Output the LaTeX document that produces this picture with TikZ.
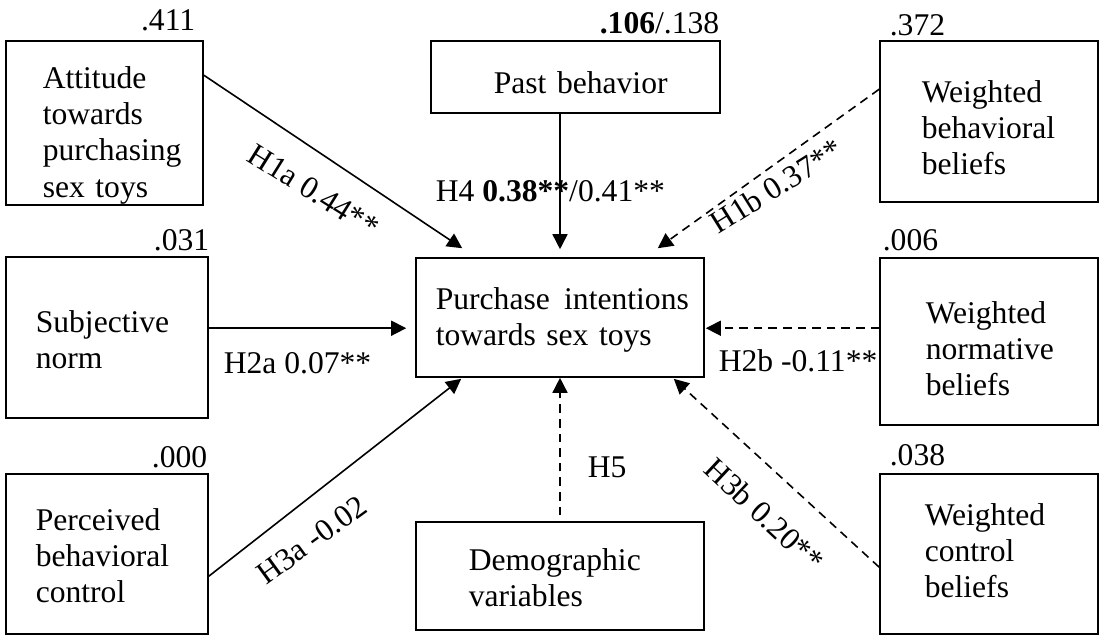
\documentclass[tikz,border=0pt]{standalone}
\usepackage{fontspec}
\setmainfont{Liberation Serif}
\usetikzlibrary{arrows.meta,calc,fit}

\tikzset{every picture/.style={line width=0.8pt}}
\tikzset{
  box/.style={draw, inner sep=0pt},
  boxtext/.style={anchor=base west, inner sep=0pt, align=left, text width=150pt},
  rsq/.style={inner sep=0pt},
  hyp/.style={inner sep=0pt, anchor=base west},
  arr/.style={-{Triangle[length=7.5pt,width=7.5pt]}},
  darr/.style={arr, dash pattern=on 4.3pt off 3pt},
}
\newcommand{\diafont}{\fontsize{15.8}{18.2}\selectfont}

\begin{document}
\begin{tikzpicture}[x=0.5pt,y=0.5pt,yscale=-1,xscale=1,font=\diafont]
\useasboundingbox (0,0) rectangle (1101,639);

%Shape: Rectangle
\node[box, fit={(6,41) (203,205)}] (att) {};
\node[box, fit={(6,257) (208,418)}] (subj) {};
\node[box, fit={(6,474) (208,634)}] (pbc) {};
\node[box, fit={(431,41) (720,113)}] (past) {};
\node[box, fit={(416,258) (704,377)}] (pi) {};
\node[box, fit={(416,522) (704,630)}] (demo) {};
\node[box, fit={(880,41) (1098,202)}] (wbb) {};
\node[box, fit={(880,258) (1098,425)}] (wnb) {};
\node[box, fit={(880,474) (1098,634)}] (wcb) {};

% Text Node
\node[boxtext] (att-t) at (42,88) {Attitude\\towards\\purchasing\\sex toys};
\node[boxtext] (subj-t) at (35,332) {Subjective\\norm};
\node[boxtext] (pbc-t) at (35,530) {Perceived\\behavioral\\control};
\node[boxtext] (past-t) at (493,93) {Past behavior};
\node[boxtext] (pi-t) at (435,309) {Purchase\hspace{0.12em} intentions\\towards sex toys};
\node[boxtext] (demo-t) at (468,570) {Demographic\\variables};
\node[boxtext] (wbb-t) at (921,102) {Weighted\\behavioral\\beliefs};
\node[boxtext] (wnb-t) at (925,323) {Weighted\\normative\\beliefs};
\node[boxtext] (wcb-t) at (924,525) {Weighted\\control\\beliefs};

% Text Node
\node[rsq, anchor=base east] (att-r) at (196,30) {.411};
\node[rsq, anchor=base east] (subj-r) at (210,250) {.031};
\node[rsq, anchor=base east] (pbc-r) at (208,467) {.000};
\node[rsq, anchor=base east] (past-r) at (720,33) {\textbf{.106}/.138};
\node[rsq, anchor=base west] (wbb-r) at (889,35) {.372};
\node[rsq, anchor=base west] (wnb-r) at (882,250) {.006};
\node[rsq, anchor=base west] (wcb-r) at (889,465) {.038};

%Straight Lines
\draw[arr] ($(att.north east)+(0,35)$) -- ($(pi.north west)+(47,-9)$);
\draw[arr] (past.south -| pi.north) -- ($(pi.north)+(0,-8)$);
\draw[darr] ($(wbb.north west)+(0,49)$) -- ($(pi.north east)+(-47,-9)$);
\draw[arr] ($(subj.north east)+(0,72)$) -- ($(pi.north west)+(-9,71)$);
\draw[darr] ($(wnb.north west)+(0,71)$) -- ($(pi.north east)+(1,71)$);
\draw[arr] ($(pbc.north east)+(0,103)$) -- ($(pi.south west)+(46,1)$);
\draw[darr] ($(demo.north)+(0,-6)$) -- (pi.south);
\draw[darr] ($(wcb.north west)+(0,94)$) -- ($(pi.south east)+(-31,1)$);

% Text Node
\node[hyp, rotate=-32] (h1a) at (245,160) {H1a 0.44**};
\node[hyp] (h4) at (435,201) {H4 \textbf{0.38**}/0.41**};
\node[hyp, rotate=32] (h1b) at (718,235) {H1b 0.37**};
\node[hyp] (h2a) at (223,373) {H2a 0.07**};
\node[hyp] (h2b) at (718,371) {H2b -0.11**};
\node[hyp, rotate=36] (h3a) at (266,586) {H3a -0.02};
\node[hyp] (h5) at (587,477) {H5};
\node[hyp, rotate=-43] (h3b) at (702,471) {H3b 0.20**};

\end{tikzpicture}
\end{document}
